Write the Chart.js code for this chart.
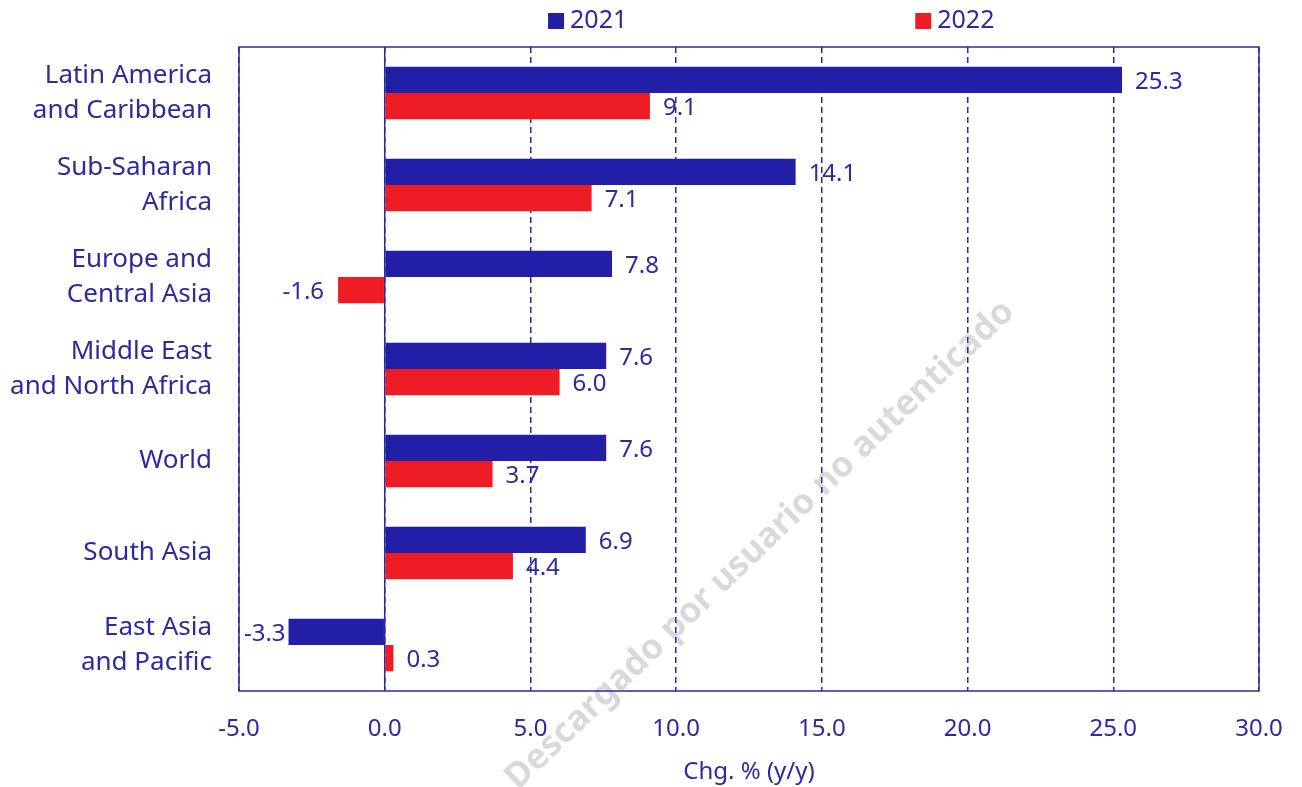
<!DOCTYPE html>
<html>
<head>
<meta charset="utf-8">
<script src="https://cdn.jsdelivr.net/npm/chart.js@4/dist/chart.umd.min.js"></script>
<style>
  html, body { margin: 0; padding: 0; background: #fff; }
  #wrap { width: 1302px; height: 787px; }
</style>
</head>
<body>
<div id="wrap"><canvas id="growthChart" width="1302" height="787"></canvas></div>
<script>
const regions = [
  ["Latin America", "and Caribbean"],
  ["Sub-Saharan", "Africa"],
  ["Europe and", "Central Asia"],
  ["Middle East", "and North Africa"],
  ["World"],
  ["South Asia"],
  ["East Asia", "and Pacific"]
];
const years = ["2021", "2022"];
const values2021 = [25.3, 14.1, 7.8, 7.6, 7.6, 6.9, -3.3];
const values2022 = [9.1, 7.1, -1.6, 6.0, 3.7, 4.4, 0.3];
const xTicks = [-5, 0, 5, 10, 15, 20, 25, 30];

const ink = "#2B2A9E";
const blue = "#221EA5";
const red = "#EE1D25";
const font = "'Noto Sans', sans-serif";

// watermark behind everything
const watermark = {
  id: "watermark",
  beforeDraw(chart) {
    const ctx = chart.ctx;
    ctx.save();
    ctx.translate(760, 545);
    ctx.rotate(-43.8 * Math.PI / 180);
    ctx.font = "bold 35px " + font;
    ctx.fillStyle = "rgba(0,0,0,0.15)";
    ctx.textAlign = "center";
    ctx.textBaseline = "middle";
    ctx.fillText("Descargado por usuario no autenticado", 0, 0);
    ctx.restore();
  }
};

// solid frame and zero line over the dashed grid
const frame = {
  id: "frame",
  beforeDatasetsDraw(chart) {
    const { ctx, chartArea: a, scales } = chart;
    ctx.save();
    ctx.strokeStyle = ink;
    ctx.lineWidth = 1.5;
    ctx.setLineDash([]);
    ctx.strokeRect(a.left, a.top, a.right - a.left, a.bottom - a.top);
    const x0 = scales.x.getPixelForValue(0);
    ctx.beginPath();
    ctx.moveTo(x0, a.top);
    ctx.lineTo(x0, a.bottom);
    ctx.stroke();
    ctx.restore();
  }
};

// value labels at the bar ends
const valueLabels = {
  id: "valueLabels",
  afterDatasetsDraw(chart) {
    const ctx = chart.ctx;
    ctx.save();
    ctx.font = "24px " + font;
    ctx.fillStyle = ink;
    ctx.textBaseline = "middle";
    chart.data.datasets.forEach((ds, di) => {
      chart.getDatasetMeta(di).data.forEach((bar, i) => {
        const v = ds.data[i];
        const txt = v.toFixed(1);
        if (v >= 0) {
          ctx.textAlign = "left";
          ctx.fillText(txt, bar.x + 13, bar.y + 2);
        } else {
          ctx.textAlign = "right";
          const gap = v < -3 ? 3 : 14;
          ctx.fillText(txt, bar.x - gap, bar.y + 2);
        }
      });
    });
    ctx.restore();
  }
};

// legend spread over the top as in the source
const topLegend = {
  id: "topLegend",
  afterDraw(chart) {
    const { ctx, chartArea: a } = chart;
    const spots = [0.303, 0.663];
    ctx.save();
    ctx.font = "25px " + font;
    ctx.textBaseline = "middle";
    ctx.textAlign = "left";
    chart.data.datasets.forEach((ds, i) => {
      const x = a.left + spots[i] * (a.right - a.left);
      ctx.fillStyle = ds.backgroundColor;
      ctx.fillRect(x, 13, 16, 16);
      ctx.fillStyle = ink;
      ctx.fillText(ds.label, x + 22, 21);
    });
    ctx.restore();
  }
};

new Chart(document.getElementById("growthChart"), {
  type: "bar",
  data: {
    labels: regions,
    datasets: [
      { label: years[0], data: values2021, backgroundColor: blue },
      { label: years[1], data: values2022, backgroundColor: red }
    ]
  },
  options: {
    indexAxis: "y",
    responsive: false,
    animation: false,
    layout: { padding: { top: 47, right: 43, left: 0, bottom: 0 } },
    categoryPercentage: 0.57,
    barPercentage: 1.0,
    plugins: {
      legend: { display: false },
      tooltip: { enabled: false }
    },
    scales: {
      x: {
        min: -5,
        max: 30,
        afterBuildTicks: s => { s.ticks = xTicks.map(v => ({ value: v })); },
        afterFit: s => {
          s.height = 96;
          s.paddingLeft = 0;
          s.paddingRight = 0;
        },
        ticks: {
          color: ink,
          font: { family: font, size: 24 },
          padding: 24,
          maxRotation: 0,
          callback: v => v.toFixed(1)
        },
        grid: { color: ink, lineWidth: 1.5, drawTicks: false },
        border: { display: false, dash: [6, 4] },
        title: {
          display: true,
          text: "Chg. % (y/y)",
          color: ink,
          font: { family: font, size: 24 },
          padding: { top: 0, bottom: 0 }
        }
      },
      y: {
        afterFit: s => {
          s.width = 239;
          s.paddingTop = 0;
          s.paddingBottom = 0;
        },
        ticks: {
          color: ink,
          font: { family: font, size: 26, lineHeight: 1.32 },
          padding: 27
        },
        grid: { display: false, drawTicks: false },
        border: { display: false }
      }
    }
  },
  plugins: [watermark, frame, valueLabels, topLegend]
});
</script>
</body>
</html>
